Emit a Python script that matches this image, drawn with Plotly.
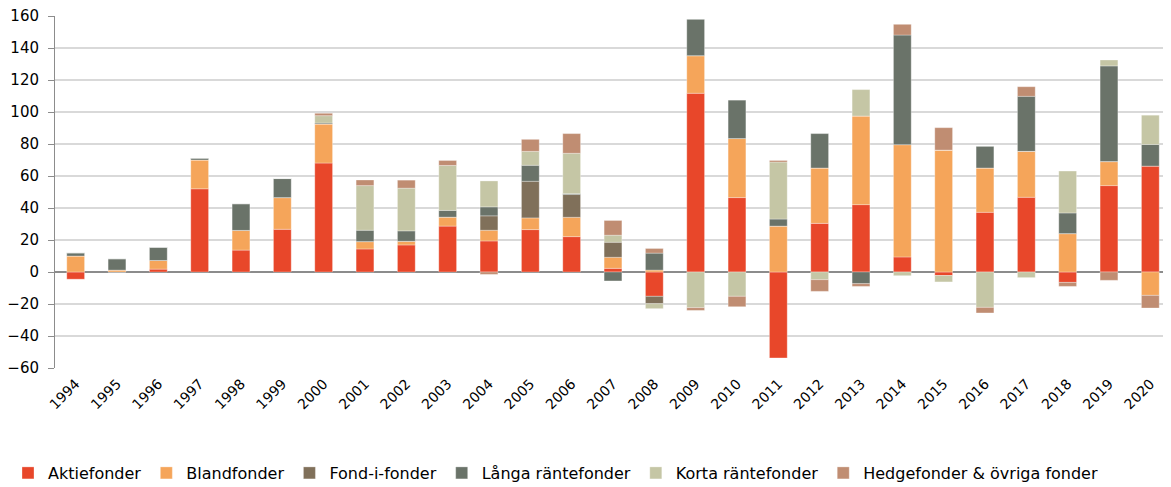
import plotly.graph_objects as go

years = [str(y) for y in range(1994, 2021)]

aktie = [-4.5, 0, 1.8, 52, 13.7, 26.7, 68.1, 14.4, 16.9, 28.7, 19.4, 26.5, 22.1, 2.3, -15.2, 111.7, 46.5, -53.7, 30.4, 42.1, 9.4, -2.2, 37.3, 46.7, -6.5, 54.0, 66.2]
bland = [10, 1.2, 5.4, 18, 12.3, 19.8, 24.4, 4.6, 2.3, 5.6, 6.7, 7.3, 12.1, 6.9, 1.2, 23.5, 36.9, 28.7, 34.6, 55.4, 70.2, 76.2, 27.7, 28.7, 24.0, 15.0, -14.6]
fondifond = [0, 0, 0, 0, 0, 0, 0, 0, 0, 0, 9.0, 22.9, 14.2, 9.4, -4.6, 0, 0, 0, 0, 0, 0, 0, 0, 0, 0, 0, 0]
langa = [2, 7.1, 8.3, 1.2, 16.7, 11.9, 0.6, 7.1, 6.5, 4.2, 5.6, 10.0, 0.6, -5.6, 10.6, 22.7, 24.0, 4.4, 21.5, -7.3, 68.5, 0, 13.5, 34.4, 12.9, 59.8, 13.5]
korta = [0, 0, 0, 0, 0, 0, 4.6, 27.9, 26.7, 28.1, 16.2, 8.7, 25.2, 4.4, -3.1, -22.3, -15.2, 35.6, -4.8, 16.5, -2.3, -4.0, -22.1, -3.5, 26.2, 3.7, 18.3]
hedge = [0, 0, 0, 0, 0, 0, 1.5, 3.5, 5.0, 3.1, -1.5, 7.5, 12.3, 9.2, 2.9, -1.7, -6.5, 1.0, -7.3, -1.7, 6.7, 14.0, -3.5, 6.0, -2.5, -5.2, -7.9]

names = ["Aktiefonder", "Blandfonder", "Fond-i-fonder", "Långa räntefonder",
         "Korta räntefonder", "Hedgefonder & övriga fonder"]
colors = ["#E8472A", "#F5A55A", "#80705A", "#6A7369", "#C5C6A5", "#C08D72"]
series = [aktie, bland, fondifond, langa, korta, hedge]

fig = go.Figure()
for n, c, s in zip(names, colors, series):
    fig.add_trace(go.Bar(
        x=years, y=s, name=n,
        marker=dict(color=c, line=dict(color="rgba(255,255,255,0.5)", width=0.6)),
    ))

fig.update_layout(
    barmode="relative",
    bargap=0.57,
    width=1163, height=479,
    margin=dict(l=47, r=0, t=8, b=119, autoexpand=False),
    paper_bgcolor="white",
    plot_bgcolor="white",
    font=dict(family="DejaVu Sans, Verdana, sans-serif", size=14, color="#000000"),
    legend=dict(
        orientation="h", x=0.0, xref="container", xanchor="left",
        y=-0.25, yref="paper", yanchor="top",
        font=dict(size=16), itemwidth=30, traceorder="normal",
    ),
)
fig.update_yaxes(
    range=[-60, 160], dtick=20, automargin=False,
    showgrid=True, gridcolor="#D9D9D9", gridwidth=1.5,
    zeroline=True, zerolinecolor="#8C8C8C", zerolinewidth=1.5,
    showline=True, linecolor="#8C8C8C", linewidth=1,
    ticks="outside", ticklen=6, tickcolor="#8C8C8C",
    ticklabelstandoff=6, ticklabeloverflow="allow",
    tickfont=dict(size=15),
)
fig.update_xaxes(
    tickangle=-45, showgrid=False, showline=False, ticks="",
    automargin=False, ticklabeloverflow="allow", ticklabelstandoff=4,
    tickfont=dict(size=14),
)

fig.write_html("out.html")
